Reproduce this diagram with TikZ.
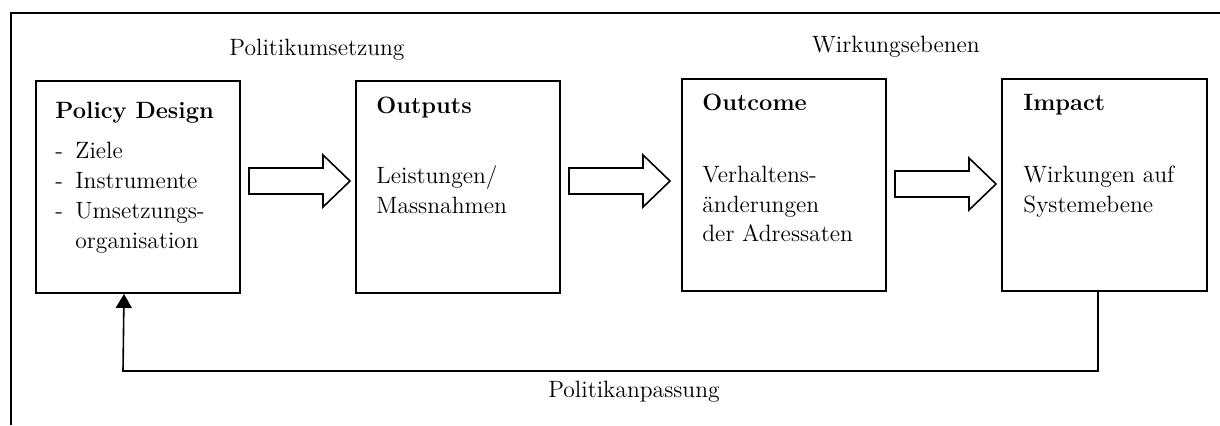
\documentclass[tikz,border=0pt]{standalone}
\usetikzlibrary{calc,arrows.meta}
\tikzset{
  every node/.style={font=\fontsize{11.8}{14.5}\selectfont},
  txt/.style={inner sep=0pt,anchor=base west},
  box/.style={draw,line width=1pt,anchor=north west,minimum width=102pt,minimum height=106pt,inner sep=0pt},
  blockarrow/.style={draw,line width=0.8pt,line join=miter,fill=white},
  fbline/.style={draw,line width=0.8pt,-{Triangle[width=8pt,length=7pt]}},
  frame/.style={draw,line width=0.7pt}
}
\newcommand\blockarr[5]{%
  \draw[blockarrow] let \p1=(#1.east), \p2=(#2.west), \p3=(0,#3) in
   (\x1+#4,\y3+6.5pt) -- (\x2-#5-13.5pt,\y3+6.5pt) -- (\x2-#5-13.5pt,\y3+13pt)
   -- (\x2-#5,\y3) -- (\x2-#5-13.5pt,\y3-13pt) -- (\x2-#5-13.5pt,\y3-6.5pt)
   -- (\x1+#4,\y3-6.5pt) -- cycle;}
\newcommand\dashitem[1]{\makebox[10pt][l]{-}#1}
\begin{document}
\begin{tikzpicture}[x=0.5pt,y=-0.5pt]
\useasboundingbox (0,0) rectangle (1220,425);
% outer frame
\coordinate (frTR) at (1220,13);
\coordinate (frTL) at (11,13);
\coordinate (frBL) at (11,425);
\draw[frame] (frTR) -- (frTL) -- (frBL);
% boxes
\node[box] (pd) at (35,80) {};
\node[box] (out) at (355,80) {};
\node[box] (oc) at (681,78) {};
\node[box,minimum width=102.5pt] (imp) at (1001,78) {};
% header labels
\node[txt,anchor=base] (lblPU) at (317,55) {Politikumsetzung};
\node[txt,anchor=base] (lblWE) at (896,52) {Wirkungsebenen};
% box texts
\node[txt] (pdT) at (55,118) {\textbf{Policy Design}};
\node[txt] (pd1) at (55,158) {\dashitem{Ziele}};
\node[txt] (pd2) at (55,188) {\dashitem{Instrumente}};
\node[txt] (pd3) at (55,218) {\dashitem{Umsetzungs-}};
\node[txt] (pd4) at (75,248) {organisation};
\node[txt] (outT) at (376,113) {\textbf{Outputs}};
\node[txt] (out1) at (376,183) {Leistungen/};
\node[txt] (out2) at (376,213) {Massnahmen};
\node[txt] (ocT) at (702,110) {\textbf{Outcome}};
\node[txt] (oc1) at (702,182) {Verhaltens-};
\node[txt] (oc2) at (702,212) {änderungen};
\node[txt] (oc3) at (702,241) {der Adressaten};
\node[txt] (impT) at (1023,110) {\textbf{Impact}};
\node[txt] (imp1) at (1023,182) {Wirkungen auf};
\node[txt] (imp2) at (1023,212) {Systemebene};
% block arrows
\blockarr{pd}{out}{181}{4pt}{2.5pt}
\blockarr{out}{oc}{181}{4pt}{5.5pt}
\blockarr{oc}{imp}{184}{4pt}{2.5pt}
% feedback loop
\coordinate (fbcorner) at (123,371);
\draw[fbline] ([xshift=-3.25pt]imp.south) |- (fbcorner) -- ([xshift=-7pt]pd.south);
\node[txt,anchor=base] (lblPA) at (634,397) {Politikanpassung};
\end{tikzpicture}
\end{document}
